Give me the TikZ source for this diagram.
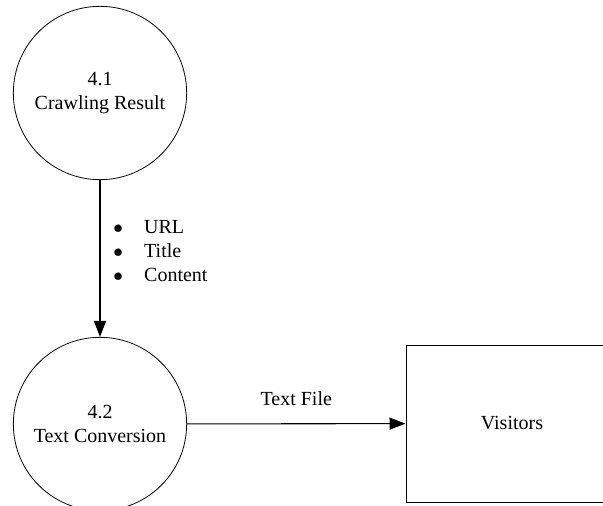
\documentclass[tikz,border=0pt]{standalone}
\usepackage{fontspec}
\setmainfont{Liberation Serif}
\usepackage{tikz}
\usetikzlibrary{arrows.meta}

\newcommand{\fieldbullet}{$\bullet$}

\begin{document}
\begin{tikzpicture}[x=0.75pt,y=-0.75pt]
    \tikzstyle{process}=[draw,text=black,circle,align=center,line width=0.6pt,minimum size=130pt,inner sep=0pt,font=\fontsize{15}{17.5}\selectfont]
    \tikzstyle{entity}=[draw,text=black,rectangle,line width=0.75pt,minimum width=159pt,minimum height=117.75pt,font=\fontsize{15}{18}\selectfont]
    \tikzstyle{weight} = [font=\fontsize{15}{18}\selectfont]
    \tikzstyle{edge} = [draw,line width=0.8pt,-{Triangle[length=12pt,width=9pt]}]

    \useasboundingbox (0,0) rectangle (603,506);

    \node[process] (crawl) at (100, 93) {4.1\\Crawling Result};
    \node[process] (conv) at (100, 424) {4.2\\Text Conversion};
    \node[entity] (vis) at (512, 423.5) {Visitors};

    \path[edge] (crawl) -- (conv);
    \node[weight,anchor=west,inner sep=0pt] (fields) at (113, 253) {%
      \begin{tabular}{@{}l@{\hspace{16pt}}l@{}}
        \fieldbullet & URL\\
        \fieldbullet & Title\\
        \fieldbullet & Content
      \end{tabular}};

    \path[edge] (conv) -- node[weight,above=10pt]{Text File} (vis);
\end{tikzpicture}
\end{document}
